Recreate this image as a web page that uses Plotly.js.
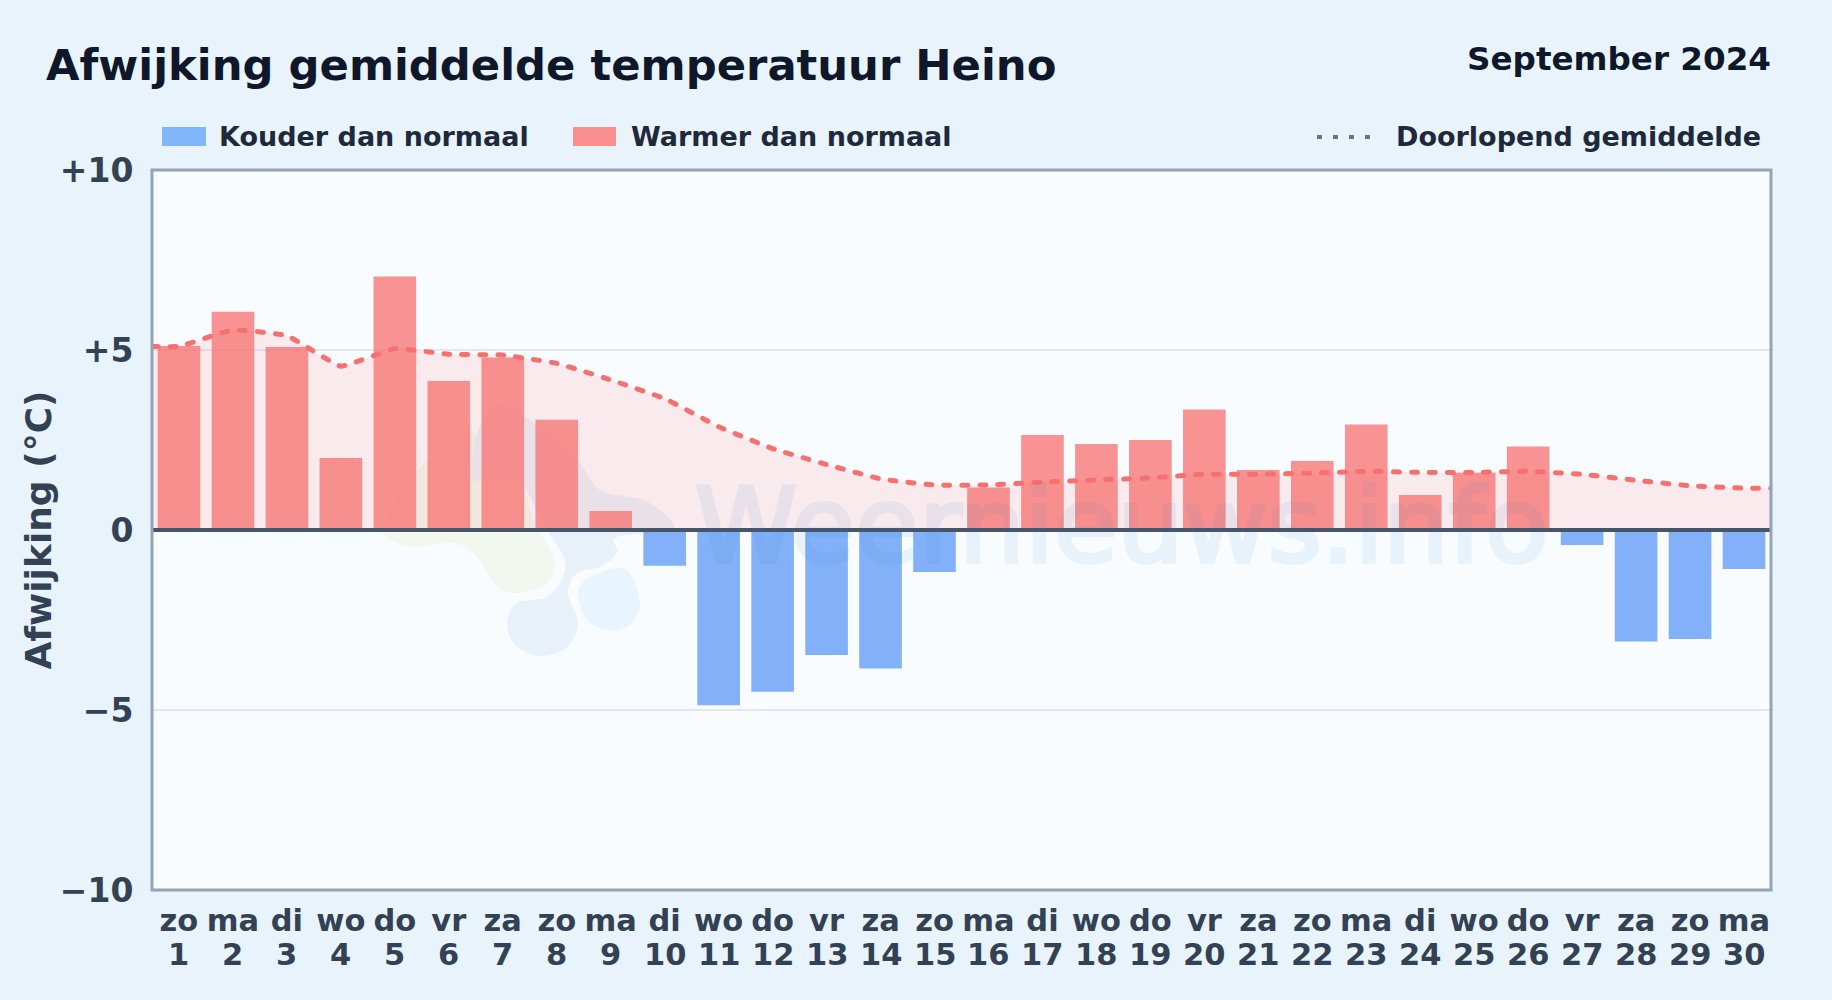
<!DOCTYPE html>
<html><head><meta charset="utf-8">
<script src="https://cdn.plot.ly/plotly-3.0.1.min.js"></script>
<style>html,body{margin:0;padding:0;background:#e8f3fc;overflow:hidden}#c{width:1832px;height:1000px}</style>
</head><body><div id="c"></div>
<script>
const days=[1,2,3,4,5,6,7,8,9,10,11,12,13,14,15,16,17,18,19,20,21,22,23,24,25,26,27,28,29,30];
const weekdays=['zo','ma','di','wo','do','vr','za','zo','ma','di','wo','do','vr','za','zo','ma','di','wo','do','vr','za','zo','ma','di','wo','do','vr','za','zo','ma'];
const deviations=[5.11,6.06,5.08,2.0,7.04,4.14,4.79,3.06,0.53,-0.99,-4.87,-4.49,-3.47,-3.85,-1.17,1.18,2.64,2.39,2.5,3.35,1.67,1.92,2.93,0.97,1.59,2.32,-0.42,-3.1,-3.03,-1.08];
const runningMean=[5.1,5.56,5.4,4.55,5.04,4.88,4.86,4.63,4.17,3.65,2.87,2.26,1.82,1.42,1.25,1.25,1.33,1.39,1.45,1.55,1.55,1.58,1.63,1.6,1.6,1.63,1.55,1.38,1.23,1.16];
const yTickVals=[-10,-5,0,5,10];
const yTickText=['\u221210','\u22125','0','+5','+10'];
const seriesNames=['Kouder dan normaal','Warmer dan normaal','Doorlopend gemiddelde'];

const L=152,R=1771,T=170,B=890,W=R-L,H=B-T;
const FF='"DejaVu Sans", sans-serif';
const px=x=>(x-L)/W, py=y=>(B-y)/H;
function blob(pts,fill){
  const n=pts.length;
  const P=p=>px(p[0]).toFixed(5)+','+py(p[1]).toFixed(5);
  let d='M'+P(pts[0]);
  for(let i=0;i<n;i++){
    const a=pts[(i-1+n)%n],b=pts[i],c=pts[(i+1)%n],e=pts[(i+2)%n];
    const c1=[b[0]+(c[0]-a[0])/6,b[1]+(c[1]-a[1])/6],c2=[c[0]-(e[0]-b[0])/6,c[1]-(e[1]-b[1])/6];
    d+=' C'+P(c1)+' '+P(c2)+' '+P(c);
  }
  return {type:'path',xref:'paper',yref:'paper',path:d+' Z',fillcolor:fill,line:{width:0},layer:'below'};
}
const logoGreen=[[383,530],[410,547],[453,543],[477,557],[497,587],[520,593],[547,583],[555,563],[547,543],[533,520],[520,480],[490,465],[470,430],[440,450],[400,490]];
const logoBlue=[[507,625],[517,603],[547,597],[563,577],[564,557],[550,535],[533,503],[520,483],[493,477],[472,478],[480,425],[500,405],[530,420],[577,460],[600,490],[643,500],[668,517],[670,530],[617,537],[617,553],[600,567],[577,573],[568,593],[578,623],[567,647],[542,656],[517,647]];
const logoSky=[[578,593],[590,577],[620,568],[632,577],[640,607],[627,627],[607,630],[587,620]];

const warm=deviations.map(v=>v>=0?v:null), cold=deviations.map(v=>v<0?v:null);
const lineX=[0.5,...days,30.5], lineY=[runningMean[0],...runningMean,runningMean[29]];

const traces=[
 {type:'bar',x:days,y:cold,name:seriesNames[0],width:0.79,marker:{color:'rgba(59,130,246,0.62)',line:{width:0}}},
 {type:'bar',x:days,y:warm,name:seriesNames[1],width:0.79,marker:{color:'rgba(248,113,113,0.76)',line:{width:0}}},
 {type:'scatter',mode:'lines',x:lineX,y:lineY,name:seriesNames[2],line:{shape:'spline',smoothing:0.3,color:'rgb(247,112,112)',width:5,dash:'6px,12px'},fill:'tozeroy',fillcolor:'rgba(248,113,113,0.13)'}
];
const txt=(text,x,y,size,color,anchor,extra)=>Object.assign({text,xref:'paper',yref:'paper',x:px(x),y:py(y),xanchor:anchor,yanchor:'middle',showarrow:false,font:{family:FF,size,color,weight:700}},extra||{});
const annotations=[
 txt('Weernieuws.info',1122,526,103.5,'','center',{opacity:0.07,font:{family:FF,size:103.5,color:'#2a78c0'}}),
 txt('Afwijking gemiddelde temperatuur Heino',44,65,43.3,'#0f172a','left'),
 txt('September 2024',1773,59,32.6,'#0f172a','right'),
 txt(seriesNames[0],217,136.7,27,'#1e293b','left'),
 txt(seriesNames[1],629,136.7,27,'#1e293b','left'),
 txt(seriesNames[2],1394,136.7,27,'#1e293b','left'),
 txt('Afwijking (°C)',37.5,530,36,'#334155','center',{textangle:-90})
];
days.forEach(d=>annotations.push({text:String(d),xref:'x',yref:'paper',x:d,y:py(954.6),xanchor:'center',yanchor:'middle',showarrow:false,font:{family:FF,size:30.5,color:'#334155',weight:700}}));
const shapes=[
 blob(logoGreen,'#f2f8ef'),blob(logoBlue,'#e8f0f9'),blob(logoSky,'#e8f5fe'),
 {type:'rect',xref:'paper',yref:'paper',x0:px(162),x1:px(206),y0:py(127),y1:py(146),fillcolor:'#82b6fb',line:{width:0}},
 {type:'rect',xref:'paper',yref:'paper',x0:px(573),x1:px(616),y0:py(127),y1:py(146),fillcolor:'#f98f8f',line:{width:0}},
 {type:'line',xref:'paper',yref:'paper',x0:px(1317),x1:px(1375),y0:py(137),y1:py(137),line:{color:'#6b7280',width:4,dash:'5px,11px'}},
 {type:'line',xref:'paper',yref:'y',x0:0,x1:1,y0:0,y1:0,line:{color:'#475569',width:4},layer:'above'},
 {type:'rect',xref:'paper',yref:'paper',x0:0,x1:1,y0:0,y1:1,line:{color:'#94a3b8',width:3},fillcolor:'rgba(0,0,0,0)',layer:'above'}
];
const layout={
 width:1832,height:1000,margin:{l:L,r:1832-R,t:T,b:1000-B,pad:0},autosize:false,
 paper_bgcolor:'#e8f3fc',plot_bgcolor:'#f8fcff',showlegend:false,barmode:'overlay',
 font:{family:FF},annotations,shapes,
 xaxis:{range:[0.5,30.5],tickmode:'array',tickvals:days,ticktext:weekdays,showgrid:false,zeroline:false,showline:false,ticks:'outside',ticklen:3,tickcolor:'rgba(0,0,0,0)',tickangle:0,tickfont:{family:FF,size:30.5,color:'#334155',weight:700},fixedrange:true},
 yaxis:{range:[-10,10],tickmode:'array',tickvals:yTickVals,ticktext:yTickText,showgrid:true,gridcolor:'#e2e8f0',gridwidth:2,zeroline:false,showline:false,ticks:'outside',ticklen:11,tickcolor:'rgba(0,0,0,0)',tickfont:{family:FF,size:33,color:'#334155',weight:700},fixedrange:true}
};
Plotly.newPlot('c',traces,layout,{displayModeBar:false,staticPlot:true}).then(()=>{
 document.querySelectorAll('#c .scatterlayer .js-line').forEach(p=>p.style.strokeLinecap='round');
 document.querySelectorAll('#c .annotation-text').forEach(t=>{
  if(t.textContent==='Weernieuws.info'){t.style.stroke='#2a78c0';t.style.strokeWidth='4px';}
 });
});
</script></body></html>
